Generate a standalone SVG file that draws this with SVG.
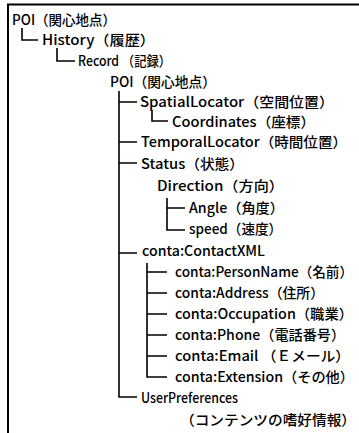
<svg xmlns="http://www.w3.org/2000/svg" width="359" height="433" viewBox="0 0 359 433">
<style>
.t{font-family:"Noto Sans CJK JP","Liberation Sans",sans-serif;font-size:14px;font-weight:500;fill:#000}
.c{fill:none;stroke:#000;stroke-width:1.6}
.f{fill:none;stroke:#000;stroke-width:2}
</style>
<rect width="359" height="433" fill="#fff"/>
<path class="f" d="M8,433 V4.5 H359"/>
<g id="connectors">
<path class="c" d="M22,28 V40 H38"/>
<path class="c" d="M57,48 V61 H75"/>
<path class="c" d="M119,91 V397 H137 M119,102 H137 M119,142 H137 M119,163 H137 M119,253 H137"/>
<path class="c" d="M152,110 V121 H168"/>
<path class="c" d="M167,198 V230 H185 M167,208 H185"/>
<path class="c" d="M147,263 V377 H167 M147,272 H167 M147,293 H167 M147,314 H167 M147,335 H167 M147,356 H167"/>
</g>
<g id="poi-root"><text class="t" x="12" y="25" textLength="104" lengthAdjust="spacingAndGlyphs">POI（関心地点）</text></g>
<g id="history"><text class="t" x="42" y="45" textLength="113" lengthAdjust="spacingAndGlyphs">History（履歴）</text></g>
<g id="record"><text class="t" x="78" y="66" textLength="93" lengthAdjust="spacingAndGlyphs">Record （記録）</text></g>
<g id="poi"><text class="t" x="110" y="87" textLength="106" lengthAdjust="spacingAndGlyphs">POI（関心地点）</text></g>
<g id="spatial"><text class="t" x="140" y="107" textLength="194" lengthAdjust="spacingAndGlyphs">SpatialLocator（空間位置）</text></g>
<g id="coordinates"><text class="t" x="172" y="127" textLength="143" lengthAdjust="spacingAndGlyphs">Coordinates（座標）</text></g>
<g id="temporal"><text class="t" x="141" y="147" textLength="206" lengthAdjust="spacingAndGlyphs">TemporalLocator（時間位置）</text></g>
<g id="status"><text class="t" x="141" y="169" textLength="103" lengthAdjust="spacingAndGlyphs">Status（状態）</text></g>
<g id="direction"><text class="t" x="157" y="191" textLength="127" lengthAdjust="spacingAndGlyphs">Direction（方向）</text></g>
<g id="angle"><text class="t" x="189" y="213" textLength="95" lengthAdjust="spacingAndGlyphs">Angle（角度）</text></g>
<g id="speed"><text class="t" x="189" y="234" textLength="93" lengthAdjust="spacingAndGlyphs">speed（速度）</text></g>
<g id="contact"><text class="t" x="142" y="256" textLength="123" lengthAdjust="spacingAndGlyphs">conta:ContactXML</text></g>
<g id="personname"><text class="t" x="175" y="277" textLength="178" lengthAdjust="spacingAndGlyphs">conta:PersonName（名前）</text></g>
<g id="address"><text class="t" x="175" y="298" textLength="149" lengthAdjust="spacingAndGlyphs">conta:Address（住所）</text></g>
<g id="occupation"><text class="t" x="175" y="319" textLength="178" lengthAdjust="spacingAndGlyphs">conta:Occupation（職業）</text></g>
<g id="phone"><text class="t" x="175" y="340" textLength="170" lengthAdjust="spacingAndGlyphs">conta:Phone（電話番号）</text></g>
<g id="email"><text class="t" x="175" y="361" textLength="175" lengthAdjust="spacingAndGlyphs">conta:Email （Ｅメール）</text></g>
<g id="extension"><text class="t" x="175" y="382" textLength="179" lengthAdjust="spacingAndGlyphs">conta:Extension（その他）</text></g>
<g id="userpref"><text class="t" x="141" y="403" textLength="97" lengthAdjust="spacingAndGlyphs">UserPreferences</text>
<text class="t" x="180" y="425" textLength="176" lengthAdjust="spacingAndGlyphs">（コンテンツの嗜好情報）</text></g>
</svg>
